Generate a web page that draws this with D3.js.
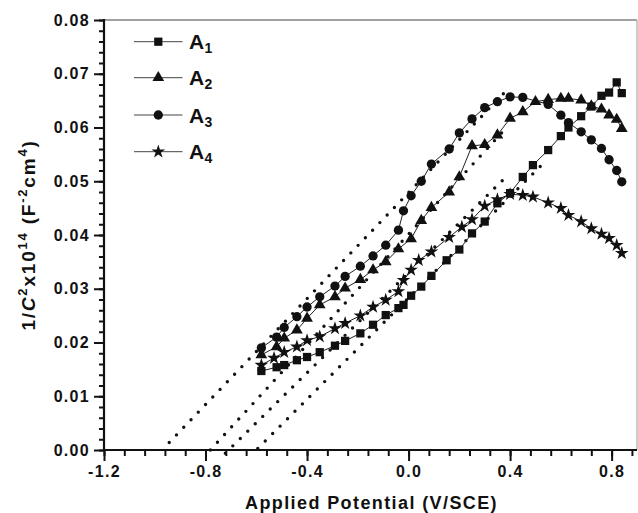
<!DOCTYPE html>
<html><head><meta charset="utf-8">
<script src="https://cdn.jsdelivr.net/npm/d3@7"></script>
<style>
body{margin:0;background:#fff}
svg{display:block}
text{font-family:"Liberation Sans",Arial,Helvetica,sans-serif;font-weight:bold;fill:#111}
</style>
</head><body>
<svg id="chart" width="638" height="513"></svg>
<script>
// ---------- data ----------
const seriesNames = ["A1", "A2", "A3", "A4"];
const seriesSymbols = ["square", "triangle", "circle", "star"];

const xA1 = [-0.58,-0.52,-0.49,-0.44,-0.40,-0.35,-0.29,-0.25,-0.19,-0.14,-0.09,-0.04,-0.02,0.01,0.05,0.09,0.15,0.20,0.25,0.30,0.35,0.40,0.45,0.49,0.55,0.60,0.63,0.68,0.72,0.76,0.79,0.82,0.84];
const yA1 = [0.0147,0.0154,0.0158,0.0167,0.0173,0.0182,0.0194,0.0203,0.0217,0.0233,0.0251,0.0264,0.0270,0.0287,0.0304,0.0324,0.0353,0.0373,0.0403,0.0425,0.0459,0.0478,0.0508,0.0530,0.0558,0.0584,0.0600,0.0621,0.0639,0.0659,0.0665,0.0684,0.0664];

const xA2 = [-0.58,-0.52,-0.49,-0.44,-0.40,-0.35,-0.29,-0.25,-0.19,-0.14,-0.09,-0.04,0.01,0.05,0.09,0.16,0.20,0.25,0.30,0.35,0.40,0.45,0.50,0.55,0.60,0.63,0.68,0.72,0.76,0.79,0.82,0.84];
const yA2 = [0.0177,0.0192,0.0208,0.0223,0.0245,0.0270,0.0285,0.0301,0.0317,0.0335,0.0350,0.0374,0.0393,0.0427,0.0451,0.0480,0.0508,0.0566,0.0568,0.0586,0.0617,0.0629,0.0648,0.0652,0.0654,0.0654,0.0651,0.0640,0.0634,0.0623,0.0615,0.0598];

const xA3 = [-0.58,-0.52,-0.49,-0.44,-0.40,-0.35,-0.29,-0.25,-0.19,-0.14,-0.09,-0.04,-0.02,0.01,0.05,0.09,0.16,0.20,0.25,0.30,0.35,0.40,0.45,0.55,0.60,0.63,0.68,0.72,0.76,0.79,0.82,0.84];
const yA3 = [0.0190,0.0210,0.0228,0.0248,0.0266,0.0285,0.0305,0.0323,0.0342,0.0361,0.0381,0.0409,0.0445,0.0473,0.0500,0.0532,0.0560,0.0590,0.0616,0.0637,0.0648,0.0657,0.0656,0.0643,0.0623,0.0609,0.0592,0.0577,0.0561,0.0540,0.0520,0.0499];

const xA4 = [-0.58,-0.53,-0.49,-0.44,-0.40,-0.35,-0.29,-0.25,-0.19,-0.14,-0.09,-0.04,-0.02,0.01,0.04,0.09,0.16,0.21,0.25,0.30,0.35,0.40,0.45,0.49,0.55,0.60,0.63,0.68,0.72,0.76,0.79,0.82,0.84];
const yA4 = [0.0158,0.0171,0.0182,0.0192,0.0204,0.0211,0.0226,0.0236,0.0250,0.0266,0.0279,0.0295,0.0316,0.0335,0.0353,0.0369,0.0396,0.0415,0.0429,0.0454,0.0466,0.0476,0.0474,0.0471,0.0460,0.0450,0.0437,0.0425,0.0412,0.0402,0.0394,0.0381,0.0366];

// linear (Mott-Schottky) fit lines: start and end points in data units
const fitX0 = [-0.594, -0.781, -0.943, -0.722];
const fitY0 = [0.0003, 0.0000, 0.0014, -0.0006];
const fitX1 = [0.545, 0.386, 0.394, 0.386];
const fitY1 = [0.0540, 0.0600, 0.0673, 0.0509];

const xTicks = [-1.2, -0.8, -0.4, 0.0, 0.4, 0.8];
const yTicks = [0.00, 0.01, 0.02, 0.03, 0.04, 0.05, 0.06, 0.07, 0.08];

// ---------- layout ----------
const svg = d3.select("#chart");
const L = 104, R = 637, T = 20, B = 450;
const x = d3.scaleLinear().domain([-1.2, 0.9]).range([L, R]);
const y = d3.scaleLinear().domain([0, 0.08]).range([B, T]);

const xs = [xA1, xA2, xA3, xA4];
const ys = [yA1, yA2, yA3, yA4];
const series = seriesNames.map((n, i) => ({
  name: n, sym: seriesSymbols[i],
  pts: xs[i].map((v, j) => ({x: v, y: ys[i][j]}))
}));

const symMap = {
  square: [d3.symbolSquare, 68],
  triangle: [d3.symbolTriangle, 60],
  circle: [d3.symbolCircle, 68],
  star: [d3.symbolStar, 58]
};
function symPath(s) { return d3.symbol().type(symMap[s][0]).size(symMap[s][1])(); }

// frame (top & right, gray)
svg.append("line").attr("x1", L).attr("x2", R).attr("y1", T).attr("y2", T)
  .attr("stroke", "#808080").attr("stroke-width", 1.3);
svg.append("line").attr("x1", R).attr("x2", R).attr("y1", T).attr("y2", B)
  .attr("stroke", "#b0b0b0").attr("stroke-width", 1.3);

// fit lines (dotted)
const fits = fitX0.map((v, i) => [{x: v, y: fitY0[i]}, {x: fitX1[i], y: fitY1[i]}]);
const lineGen = d3.line().x(d => x(d.x)).y(d => y(d.y));
svg.append("g").selectAll("path").data(fits).join("path")
  .attr("d", lineGen).attr("fill", "none").attr("stroke", "#111")
  .attr("stroke-width", 3.4).attr("stroke-linecap", "round")
  .attr("stroke-dasharray", "0 10.5");

// series lines and markers
const gS = svg.append("g");
series.forEach(s => {
  gS.append("path").datum(s.pts).attr("d", lineGen)
    .attr("fill", "none").attr("stroke", "#222").attr("stroke-width", 1);
});
series.forEach(s => {
  gS.append("g").selectAll("path").data(s.pts).join("path")
    .attr("d", symPath(s.sym))
    .attr("transform", d => `translate(${x(d.x)},${y(d.y)})`)
    .attr("fill", "#111");
});

// axes
const xMinor = d3.range(0, 27).map(i => -1.2 + i * 0.08).filter(v => v <= 0.9);
const yMinor = d3.range(0, 41).map(i => i * 0.002);

const xAxis = svg.append("g").attr("transform", `translate(0,${B})`);
xAxis.call(d3.axisBottom(x).tickValues(xMinor).tickSize(6).tickFormat(""));
xAxis.append("g").call(d3.axisBottom(x).tickValues(xTicks).tickSize(11).tickPadding(5)
  .tickFormat(d => d.toFixed(1)));
const yAxis = svg.append("g").attr("transform", `translate(${L},0)`);
yAxis.call(d3.axisLeft(y).tickValues(yMinor).tickSize(5).tickFormat(""));
yAxis.append("g").call(d3.axisLeft(y).tickValues(yTicks).tickSize(10).tickPadding(4)
  .tickFormat(d => d.toFixed(2)));

svg.selectAll(".domain").remove();
svg.selectAll(".tick line").attr("stroke", "#111").attr("stroke-width", 2);
svg.selectAll(".tick text").attr("font-size", 16).attr("letter-spacing", 1.3)
  .attr("font-family", '"Liberation Sans",Arial,sans-serif').attr("font-weight", "bold").attr("fill", "#111");
svg.append("line").attr("x1", L).attr("x2", L).attr("y1", T - 1).attr("y2", B + 1)
  .attr("stroke", "#111").attr("stroke-width", 2.2);
svg.append("line").attr("x1", L - 1).attr("x2", R).attr("y1", B).attr("y2", B)
  .attr("stroke", "#111").attr("stroke-width", 2.2);

// axis titles
svg.append("text").attr("x", (L + R) / 2 + 1).attr("y", 509).attr("text-anchor", "middle")
  .attr("font-size", 18).attr("letter-spacing", 1.4).text("Applied Potential (V/SCE)");

const yt = svg.append("text").attr("transform", "translate(35,235) rotate(-90)")
  .attr("text-anchor", "middle").attr("font-size", 19).attr("letter-spacing", 1.8);
yt.append("tspan").text("1/");
yt.append("tspan").attr("font-style", "italic").text("C");
yt.append("tspan").attr("font-size", 13).attr("dy", -8).text("2");
yt.append("tspan").attr("dy", 8).text("x10");
yt.append("tspan").attr("font-size", 13).attr("dy", -8).text("14");
yt.append("tspan").attr("dy", 8).text(" (F");
yt.append("tspan").attr("font-size", 13).attr("dy", -8).text("-2");
yt.append("tspan").attr("dy", 8).text("cm");
yt.append("tspan").attr("font-size", 13).attr("dy", -8).text("4");
yt.append("tspan").attr("dy", 8).text(")");

// legend
const legY = [41.7, 77.7, 115, 151.7];
const leg = svg.append("g");
series.forEach((s, i) => {
  const g = leg.append("g").attr("transform", `translate(0,${legY[i]})`);
  g.append("line").attr("x1", 134).attr("x2", 182.5).attr("y1", 0).attr("y2", 0)
    .attr("stroke", "#444").attr("stroke-width", 1);
  g.append("path").attr("d", symPath(s.sym)).attr("transform", "translate(158.3,0)").attr("fill", "#111");
  const t = g.append("text").attr("x", 189).attr("y", 7.5).attr("font-size", 21).attr("letter-spacing", 0.3);
  t.append("tspan").text(s.name.charAt(0));
  t.append("tspan").attr("font-size", 14).attr("dy", 4).text(s.name.slice(1));
});
</script>
</body></html>
